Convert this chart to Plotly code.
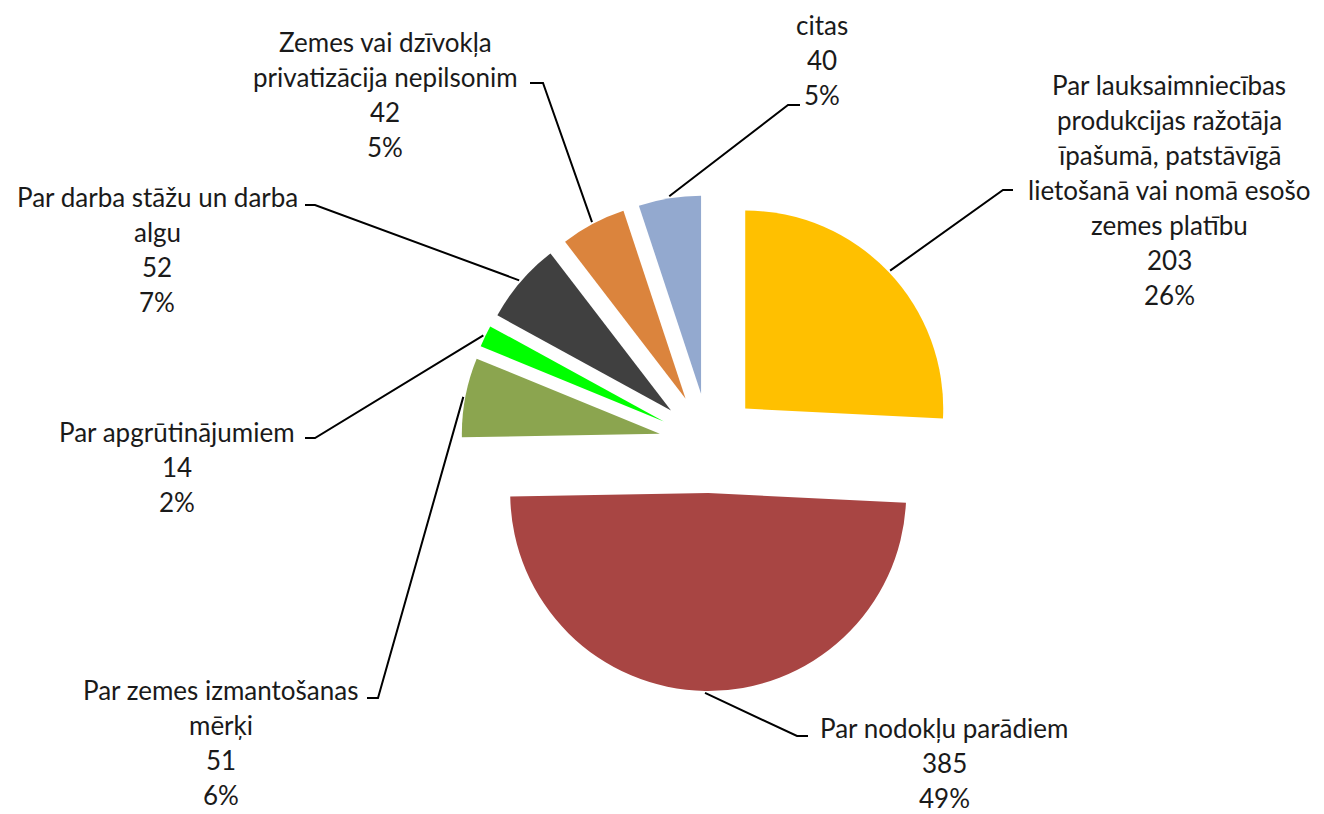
import math
import plotly.graph_objects as go

# ---- data ----
categories = [
    "Par lauksaimniecības produkcijas ražotāja īpašumā, patstāvīgā lietošanā vai nomā esošo zemes platību",
    "Par nodokļu parādiem",
    "Par zemes izmantošanas mērķi",
    "Par apgrūtinājumiem",
    "Par darba stāžu un darba algu",
    "Zemes vai dzīvokļa privatizācija nepilsonim",
    "citas",
]
label_lines = [
    ["Par lauksaimniecības", "produkcijas ražotāja", "īpašumā, patstāvīgā", "lietošanā vai nomā esošo", "zemes platību"],
    ["Par nodokļu parādiem"],
    ["Par zemes izmantošanas", "mērķi"],
    ["Par apgrūtinājumiem"],
    ["Par darba stāžu un darba", "algu"],
    ["Zemes vai dzīvokļa", "privatizācija nepilsonim"],
    ["citas"],
]
values = [203, 385, 51, 14, 52, 42, 40]
colors = ["#FFC000", "#A84543", "#8BA54F", "#00FF00", "#404040", "#DB843D", "#93A9CF"]

# ---- layout constants (screen pixels) ----
OFF = 8                      # page body margin
W, H = 1324 - OFF, 814 - OFF  # figure size
CX, CY = 709, 443      # pie centre
R = 198                # pie radius
PULL = 50              # explode distance

# label placement: centre x, first line y, elbow point, end point
label_pos = [
    (1169, 85, (1003, 190), (1013, 190)),
    (944, 728, (797, 736), (808, 736)),
    (221, 690, (378, 698), (367, 698)),
    (177, 432, (315, 438), (305, 438)),
    (157, 197, (315, 205), (305, 205)),
    (385, 42, (543, 83), (530, 83)),
    (822, 25, (788, 105), (800, 105)),
]
LINE_STEP = 35


def px(x):
    return (x - OFF) / W


def py(y):
    return 1 - (y - OFF) / H


total = sum(values)
fig = go.Figure()

cum = 0
bisectors = []
for i, v in enumerate(values):
    ang = (cum + v / 2) / total * 2 * math.pi
    bisectors.append(ang)
    cum += v
    cx = CX + PULL * math.sin(ang)
    cy = CY - PULL * math.cos(ang)
    cols = ["rgba(0,0,0,0)"] * len(values)
    cols[i] = colors[i]
    fig.add_trace(go.Pie(
        labels=categories,
        values=values,
        sort=False,
        direction="clockwise",
        rotation=0,
        marker=dict(colors=cols, line=dict(width=0)),
        textinfo="none",
        hoverinfo="label+value+percent",
        showlegend=False,
        domain=dict(x=[px(cx - R), px(cx + R)], y=[py(cy + R), py(cy - R)]),
    ))

shapes = []
annotations = []
for i, v in enumerate(values):
    ang = bisectors[i]
    dist = R + PULL + 2
    sx = CX + dist * math.sin(ang)
    sy = CY - dist * math.cos(ang)
    lx, ly0, elbow, end = label_pos[i]
    path = f"M {px(sx)},{py(sy)} L {px(elbow[0])},{py(elbow[1])} L {px(end[0])},{py(end[1])}"
    shapes.append(dict(type="path", xref="paper", yref="paper", path=path,
                       line=dict(color="black", width=2)))
    pct = round(v / total * 100)
    lines = label_lines[i] + [str(v), f"{pct}%"]
    for k, t in enumerate(lines):
        annotations.append(dict(
            x=px(lx), y=py(ly0 + k * LINE_STEP), xref="paper", yref="paper",
            text=t, showarrow=False, xanchor="center", yanchor="middle",
            borderpad=0,
            font=dict(family="Lato", size=26, color="#1a1a1a"),
        ))

fig.update_layout(
    width=W, height=H,
    margin=dict(l=0, r=0, t=0, b=0),
    paper_bgcolor="white",
    plot_bgcolor="white",
    shapes=shapes,
    annotations=annotations,
)

fig.write_html("out.html")
